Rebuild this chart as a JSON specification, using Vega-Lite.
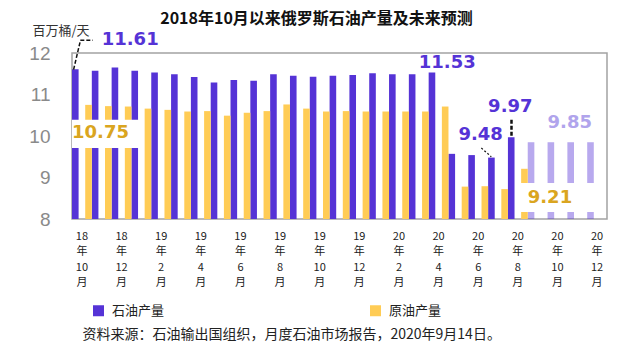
{
  "$schema": "https://vega.github.io/schema/vega-lite/v6.json",
  "width": 535,
  "height": 166,
  "autosize": {"type": "none"},
  "padding": {"left": 72, "top": 53, "right": 33, "bottom": 135},
  "background": "white",
  "title": {
    "text": "2018年10月以来俄罗斯石油产量及未来预测",
    "frame": "group",
    "anchor": "middle",
    "dx": -23,
    "offset": -3,
    "fontSize": 16,
    "fontWeight": "bold",
    "font": "Noto Sans CJK SC",
    "color": "#111111"
  },
  "config": {
    "view": {"stroke": "#A3A3A3", "strokeWidth": 1.5},
    "font": "Noto Sans CJK SC"
  },
  "layer": [
    {
      "data": {
        "values": [
          {"month": "2018-10", "series": "石油产量", "status": "实际", "value": 11.61},
          {"month": "2018-11", "series": "石油产量", "status": "实际", "value": 11.57},
          {"month": "2018-12", "series": "石油产量", "status": "实际", "value": 11.65},
          {"month": "2019-01", "series": "石油产量", "status": "实际", "value": 11.57},
          {"month": "2019-02", "series": "石油产量", "status": "实际", "value": 11.53},
          {"month": "2019-03", "series": "石油产量", "status": "实际", "value": 11.49},
          {"month": "2019-04", "series": "石油产量", "status": "实际", "value": 11.42},
          {"month": "2019-05", "series": "石油产量", "status": "实际", "value": 11.29},
          {"month": "2019-06", "series": "石油产量", "status": "实际", "value": 11.35},
          {"month": "2019-07", "series": "石油产量", "status": "实际", "value": 11.33},
          {"month": "2019-08", "series": "石油产量", "status": "实际", "value": 11.49},
          {"month": "2019-09", "series": "石油产量", "status": "实际", "value": 11.45},
          {"month": "2019-10", "series": "石油产量", "status": "实际", "value": 11.43},
          {"month": "2019-11", "series": "石油产量", "status": "实际", "value": 11.45},
          {"month": "2019-12", "series": "石油产量", "status": "实际", "value": 11.47},
          {"month": "2020-01", "series": "石油产量", "status": "实际", "value": 11.51},
          {"month": "2020-02", "series": "石油产量", "status": "实际", "value": 11.49},
          {"month": "2020-03", "series": "石油产量", "status": "实际", "value": 11.49},
          {"month": "2020-04", "series": "石油产量", "status": "实际", "value": 11.53},
          {"month": "2020-05", "series": "石油产量", "status": "实际", "value": 9.57},
          {"month": "2020-06", "series": "石油产量", "status": "实际", "value": 9.54},
          {"month": "2020-07", "series": "石油产量", "status": "实际", "value": 9.48},
          {"month": "2020-08", "series": "石油产量", "status": "实际", "value": 9.97},
          {"month": "2020-09", "series": "石油产量", "status": "预测", "value": 9.85},
          {"month": "2020-10", "series": "石油产量", "status": "预测", "value": 9.85},
          {"month": "2020-11", "series": "石油产量", "status": "预测", "value": 9.85},
          {"month": "2020-12", "series": "石油产量", "status": "预测", "value": 9.85},
          {"month": "2018-10", "series": "原油产量", "status": "实际", "value": 10.75},
          {"month": "2018-11", "series": "原油产量", "status": "实际", "value": 10.72},
          {"month": "2018-12", "series": "原油产量", "status": "实际", "value": 10.71},
          {"month": "2019-01", "series": "原油产量", "status": "实际", "value": 10.66},
          {"month": "2019-02", "series": "原油产量", "status": "实际", "value": 10.63},
          {"month": "2019-03", "series": "原油产量", "status": "实际", "value": 10.59},
          {"month": "2019-04", "series": "原油产量", "status": "实际", "value": 10.6},
          {"month": "2019-05", "series": "原油产量", "status": "实际", "value": 10.49},
          {"month": "2019-06", "series": "原油产量", "status": "实际", "value": 10.56},
          {"month": "2019-07", "series": "原油产量", "status": "实际", "value": 10.6},
          {"month": "2019-08", "series": "原油产量", "status": "实际", "value": 10.76},
          {"month": "2019-09", "series": "原油产量", "status": "实际", "value": 10.66},
          {"month": "2019-10", "series": "原油产量", "status": "实际", "value": 10.59},
          {"month": "2019-11", "series": "原油产量", "status": "实际", "value": 10.6},
          {"month": "2019-12", "series": "原油产量", "status": "实际", "value": 10.59},
          {"month": "2020-01", "series": "原油产量", "status": "实际", "value": 10.59},
          {"month": "2020-02", "series": "原油产量", "status": "实际", "value": 10.59},
          {"month": "2020-03", "series": "原油产量", "status": "实际", "value": 10.59},
          {"month": "2020-04", "series": "原油产量", "status": "实际", "value": 10.71},
          {"month": "2020-05", "series": "原油产量", "status": "实际", "value": 8.78},
          {"month": "2020-06", "series": "原油产量", "status": "实际", "value": 8.79},
          {"month": "2020-07", "series": "原油产量", "status": "实际", "value": 8.72},
          {"month": "2020-08", "series": "原油产量", "status": "实际", "value": 9.21}
        ]
      },
      "mark": {"type": "bar"},
      "encoding": {
        "x": {
          "field": "month",
          "type": "nominal",
          "scale": {"type": "band", "paddingInner": 0, "paddingOuter": 0},
          "axis": {
            "title": "资料来源：石油输出国组织，月度石油市场报告，2020年9月14日。",
            "titleX": 10,
            "titleY": 115,
            "titleAnchor": "start",
            "titleAlign": "left",
            "titleBaseline": "middle",
            "titleFontSize": 14,
            "titleFontWeight": "normal",
            "titleColor": "#222222",
            "labelExpr": "(toNumber(substring(datum.value,5,7)) % 2 == 0) ? [substring(datum.value,2,4), '年', '' + toNumber(substring(datum.value,5,7)), '月'] : ''",
            "labelAngle": 0,
            "labelFontSize": 11,
            "labelLineHeight": 15.5,
            "labelPadding": 11,
            "labelColor": "#222222",
            "labelBaseline": "top",
            "labelOverlap": false,
            "labelBound": false,
            "ticks": false,
            "domain": false,
            "grid": false
          }
        },
        "xOffset": {
          "field": "series",
          "type": "nominal",
          "scale": {"domain": ["石油产量", "间隔", "原油产量"], "paddingInner": 0, "paddingOuter": 0}
        },
        "y": {
          "field": "value",
          "type": "quantitative",
          "scale": {"domain": [8, 12], "zero": false, "nice": false},
          "axis": {
            "values": [8, 9, 10, 11, 12],
            "title": "百万桶/天",
            "titleAngle": 0,
            "titleAlign": "left",
            "titleBaseline": "middle",
            "titleX": -40,
            "titleY": -23,
            "titleFontSize": 13,
            "titleFontWeight": "normal",
            "titleColor": "#333333",
            "labelFont": "Liberation Sans",
            "labelFontSize": 19,
            "labelColor": "#8A8A8A",
            "labelPadding": 22,
            "ticks": false,
            "domain": false,
            "grid": false
          }
        },
        "y2": {"datum": 8},
        "color": {
          "field": "series",
          "type": "nominal",
          "scale": {"domain": ["石油产量", "原油产量"], "range": ["#5533D6", "#FFCC55"]},
          "legend": {
            "orient": "none",
            "legendX": 20,
            "legendY": 251,
            "direction": "horizontal",
            "columns": 2,
            "columnPadding": 204,
            "title": null,
            "symbolType": "square",
            "symbolSize": 121,
            "symbolStrokeWidth": 0,
            "symbolOpacity": 1,
            "labelFontSize": 13,
            "labelColor": "#222222",
            "labelOffset": 7
          }
        },
        "opacity": {
          "field": "status",
          "type": "nominal",
          "scale": {"domain": ["实际", "预测"], "range": [1, 0.42]},
          "legend": null
        }
      }
    },
    {
      "data": {"values": [{"month": "2018-10", "month2": "2019-01", "top": 10.39, "bottom": 9.71}]},
      "mark": {"type": "rect", "color": "white", "opacity": 1},
      "encoding": {
        "x": {"field": "month", "type": "nominal", "bandPosition": 0},
        "x2": {"field": "month2", "bandPosition": 0.43},
        "y": {"field": "top", "type": "quantitative"},
        "y2": {"field": "bottom"}
      }
    },
    {
      "data": {"values": [{"month": "2020-08", "month2": "2020-12", "top": 8.87, "bottom": 8.17}]},
      "mark": {"type": "rect", "color": "white", "opacity": 1},
      "encoding": {
        "x": {"field": "month", "type": "nominal", "bandPosition": 0.53},
        "x2": {"field": "month2", "bandPosition": 0.52},
        "y": {"field": "top", "type": "quantitative"},
        "y2": {"field": "bottom"}
      }
    },
    {
      "data": {"values": [{"month": "2018-10", "month2": "2018-10", "from": 11.6, "to": 12.29}]},
      "mark": {"type": "rule", "color": "#111111", "strokeWidth": 1.5, "strokeDash": [4, 2]},
      "encoding": {
        "x": {"field": "month", "type": "nominal", "bandPosition": 0.08},
        "x2": {"field": "month2", "bandPosition": 0.42},
        "y": {"field": "from", "type": "quantitative"},
        "y2": {"field": "to"}
      }
    },
    {
      "data": {"values": [{"month": "2018-10", "month2": "2018-11", "from": 12.31, "to": 12.31}]},
      "mark": {"type": "rule", "color": "#111111", "strokeWidth": 1.5, "strokeDash": [4, 2]},
      "encoding": {
        "x": {"field": "month", "type": "nominal", "bandPosition": 0.42},
        "x2": {"field": "month2", "bandPosition": 0.05},
        "y": {"field": "from", "type": "quantitative"},
        "y2": {"field": "to"}
      }
    },
    {
      "data": {"values": [{"month": "2020-06", "month2": "2020-07", "from": 9.71, "to": 9.5}]},
      "mark": {"type": "rule", "color": "#111111", "strokeWidth": 1.2, "strokeDash": [2, 2]},
      "encoding": {
        "x": {"field": "month", "type": "nominal", "bandPosition": 0.66},
        "x2": {"field": "month2", "bandPosition": 0.16},
        "y": {"field": "from", "type": "quantitative"},
        "y2": {"field": "to"}
      }
    },
    {
      "data": {"values": [{"month": "2020-08", "from": 10.39, "to": 9.98}]},
      "mark": {"type": "rule", "color": "#111111", "strokeWidth": 2.5, "strokeDash": [4, 2]},
      "encoding": {
        "x": {"field": "month", "type": "nominal", "bandPosition": 0.18},
        "y": {"field": "from", "type": "quantitative"},
        "y2": {"field": "to"}
      }
    },
    {
      "data": {"values": [
        {"month": "2018-11", "y": 12.31, "label": "11.61"},
        {"month": "2020-03", "y": 11.76, "label": "11.53"},
        {"month": "2020-05", "y": 10.02, "label": "9.48"}
      ]},
      "mark": {"type": "text", "align": "left", "baseline": "middle", "font": "DejaVu Sans", "fontWeight": "bold", "fontSize": 18, "color": "#5533D6"},
      "encoding": {
        "x": {"field": "month", "type": "nominal", "bandPosition": 0.5},
        "y": {"field": "y", "type": "quantitative"},
        "text": {"field": "label"}
      }
    },
    {
      "data": {"values": [
        {"month": "2020-07", "y": 10.7, "label": "9.97"}
      ]},
      "mark": {"type": "text", "align": "left", "baseline": "middle", "font": "DejaVu Sans", "fontWeight": "bold", "fontSize": 18, "color": "#5533D6"},
      "encoding": {
        "x": {"field": "month", "type": "nominal", "bandPosition": 0},
        "y": {"field": "y", "type": "quantitative"},
        "text": {"field": "label"}
      }
    },
    {
      "data": {"values": [
        {"month": "2018-10", "y": 10.07, "label": "10.75"},
        {"month": "2020-09", "y": 8.51, "label": "9.21"}
      ]},
      "mark": {"type": "text", "align": "left", "baseline": "middle", "font": "DejaVu Sans", "fontWeight": "bold", "fontSize": 18, "color": "#DAA520"},
      "encoding": {
        "x": {"field": "month", "type": "nominal", "bandPosition": 0},
        "y": {"field": "y", "type": "quantitative"},
        "text": {"field": "label"}
      }
    },
    {
      "data": {"values": [
        {"month": "2020-10", "y": 10.31, "label": "9.85"}
      ]},
      "mark": {"type": "text", "align": "left", "baseline": "middle", "font": "DejaVu Sans", "fontWeight": "bold", "fontSize": 18, "color": "#B0A4EC"},
      "encoding": {
        "x": {"field": "month", "type": "nominal", "bandPosition": 0},
        "y": {"field": "y", "type": "quantitative"},
        "text": {"field": "label"}
      }
    }
  ]
}
